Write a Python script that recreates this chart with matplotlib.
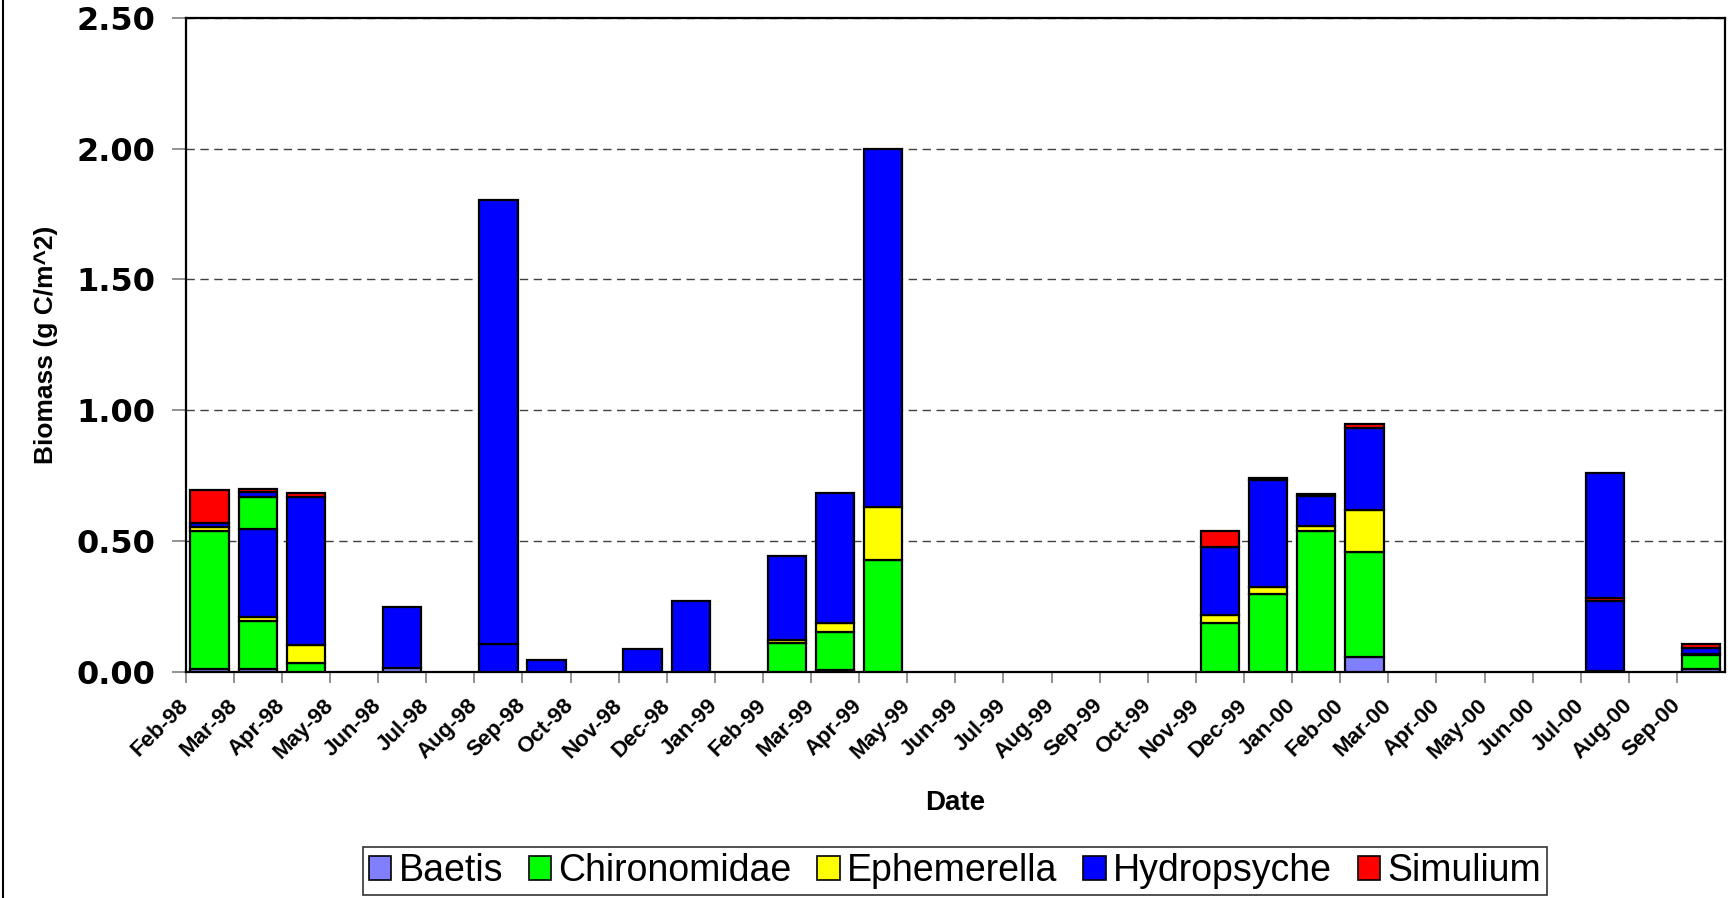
import matplotlib
matplotlib.use("Agg")
import matplotlib.pyplot as plt
from matplotlib.patches import Patch
from matplotlib.lines import Line2D

plt.rcParams['font.family'] = ['Liberation Sans', 'DejaVu Sans']

# month tick labels (one slot per month)
months = ['Feb-98', 'Mar-98', 'Apr-98', 'May-98', 'Jun-98', 'Jul-98', 'Aug-98',
          'Sep-98', 'Oct-98', 'Nov-98', 'Dec-98', 'Jan-99', 'Feb-99', 'Mar-99',
          'Apr-99', 'May-99', 'Jun-99', 'Jul-99', 'Aug-99', 'Sep-99', 'Oct-99',
          'Nov-99', 'Dec-99', 'Jan-00', 'Feb-00', 'Mar-00', 'Apr-00', 'May-00',
          'Jun-00', 'Jul-00', 'Aug-00', 'Sep-00']

# each sample falls in a month slot; samples in the same month stack on top of each other
sample_month = [0, 1, 1, 2, 4, 6, 6, 7, 9, 10, 12, 13, 14, 21, 22, 23, 24, 29, 29, 31]

baetis       = [0.010, 0.010, 0.000, 0.000, 0.015, 0.000, 0.000, 0.000, 0.000, 0.000,
                0.000, 0.006, 0.000, 0.000, 0.000, 0.000, 0.058, 0.000, 0.000, 0.013]
chironomidae = [0.530, 0.184, 0.125, 0.035, 0.000, 0.000, 0.000, 0.000, 0.000, 0.000,
                0.109, 0.148, 0.427, 0.188, 0.297, 0.537, 0.400, 0.005, 0.000, 0.051]
ephemerella  = [0.014, 0.015, 0.000, 0.068, 0.000, 0.000, 0.000, 0.000, 0.000, 0.000,
                0.012, 0.032, 0.202, 0.028, 0.028, 0.019, 0.162, 0.000, 0.000, 0.004]
hydropsyche  = [0.015, 0.336, 0.018, 0.567, 0.233, 0.105, 1.700, 0.045, 0.088, 0.272,
                0.322, 0.498, 1.371, 0.260, 0.408, 0.116, 0.311, 0.267, 0.475, 0.022]
simulium     = [0.125, 0.000, 0.010, 0.015, 0.000, 0.000, 0.000, 0.000, 0.000, 0.000,
                0.000, 0.000, 0.000, 0.064, 0.010, 0.008, 0.018, 0.012, 0.000, 0.015]

taxa = ['Baetis', 'Chironomidae', 'Ephemerella', 'Hydropsyche', 'Simulium']
colors = ['#8080FF', '#00FF00', '#FFFF00', '#0000FF', '#FF0000']
series = [baetis, chironomidae, ephemerella, hydropsyche, simulium]

fig = plt.figure(figsize=(17.32, 8.98), dpi=100)
ax = fig.add_axes([0.1072, 0.2517, 0.8888, 0.7286])

tops = {}
for i, slot in enumerate(sample_month):
    for vals, col in zip(series, colors):
        v = vals[i]
        if v <= 0:
            continue
        b = tops.get(slot, 0.0)
        ax.bar(slot + 0.5, v, width=0.8, bottom=b, color=col,
               edgecolor='black', linewidth=1.6, zorder=3)
        tops[slot] = b + v

ax.set_xlim(0, 32)
ax.set_ylim(0, 2.5)
ax.set_yticks([0, 0.5, 1.0, 1.5, 2.0, 2.5])
ax.set_yticklabels(['0.00', '0.50', '1.00', '1.50', '2.00', '2.50'],
                   family='DejaVu Sans', fontweight='bold', fontsize=23)
ax.set_xticks(range(len(months)))
ax.set_xticklabels(months, rotation=45, ha='right', va='center',
                   rotation_mode='anchor', fontweight='bold', fontsize=16)
ax.tick_params(axis='y', direction='out', length=10, width=1.2, color='#808080', pad=12)
ax.tick_params(axis='x', direction='out', length=8, width=1.2, color='#808080', pad=14)

ax.yaxis.grid(True, linestyle=(0, (6, 4)), color='#404040', linewidth=1.0, zorder=0)
ax.set_axisbelow(True)
for s in ax.spines.values():
    s.set_linewidth(1.6)
    s.set_color('black')

fig.text(0.5514, 0.106, 'Date', ha='center', va='center',
         fontweight='bold', fontsize=20)
fig.text(0.0266, 0.616, 'Biomass (g C/m^2)', ha='center', va='center',
         rotation=90, fontweight='bold', fontsize=19)

handles = [Patch(facecolor=c, edgecolor='black', linewidth=1.2) for c in colors]
leg = fig.legend(handles, taxa, loc='center', bbox_to_anchor=(0.5514, 0.0300),
                 ncol=5, fontsize=27, frameon=True, fancybox=False,
                 edgecolor='black', handlelength=0.6, handleheight=0.6,
                 handletextpad=0.2, columnspacing=0.68, borderpad=0.15,
                 borderaxespad=0)
leg.get_frame().set_linewidth(1.2)

# outer chart border (left edge visible in the reference)
fig.add_artist(Line2D([0.0017, 0.0017], [0, 1], transform=fig.transFigure,
                      color='black', linewidth=1.5))

fig.savefig('out.png', dpi=100)
